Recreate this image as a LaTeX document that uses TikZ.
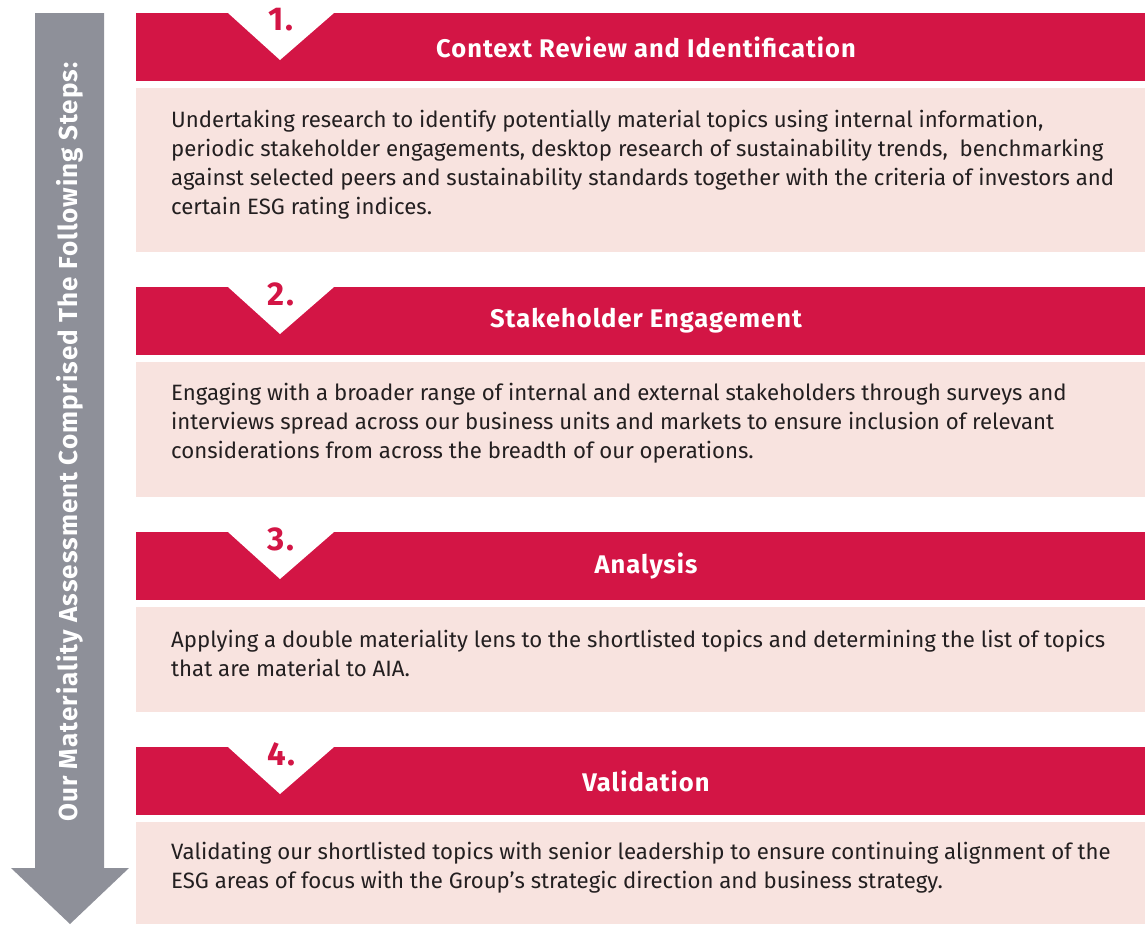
\documentclass[tikz,border=0pt]{standalone}
\usepackage{fontspec}
\setmainfont{Fira Sans}
\newfontfamily\headfont{Fira Sans}[LetterSpace=4]
\definecolor{aiared}{HTML}{D31545}
\definecolor{aiapink}{HTML}{F8E3DF}
\definecolor{aiagray}{HTML}{8E9099}
\definecolor{aiatext}{HTML}{231F20}
\tikzset{
  header/.style={fill=aiared, minimum width=1009pt, minimum height=68pt, anchor=north west, inner sep=0pt},
  bodybox/.style={fill=aiapink, minimum width=1009pt, anchor=north west, inner sep=0pt},
  notch/.style={fill=white},
  title/.style={text=white, font=\headfont\bfseries\fontsize{25.5}{30}\selectfont},
  stepnum/.style={text=aiared, font=\headfont\bfseries\fontsize{33}{36}\selectfont},
  desc/.style={text=aiatext, anchor=west, align=left, inner sep=0pt, font=\fontsize{22.2}{29}\selectfont},
}
\begin{document}
\begin{tikzpicture}[x=1pt,y=-1pt]
    \useasboundingbox (0,0) rectangle (1145,924);
    % arrow on the left
    \fill[aiagray] (35,13) -- (104,13) -- (104,868) -- (129,868) -- (70,924) -- (11,868) -- (35,868) -- cycle;
    \node[rotate=90, text=white, font=\headfont\bfseries\fontsize{26}{28}\selectfont] (steps) at (70,442) {Our Materiality Assessment Comprised The Following Steps:};

    % step 1
    \node[header] (hdr1) at (136,13) {};
    \fill[notch] ([xshift=92pt]hdr1.north west) -- ([xshift=144pt,yshift=-47pt]hdr1.north west) -- ([xshift=198pt]hdr1.north west) -- cycle;
    \node[stepnum] (num1) at (281,20) {1.};
    \node[title] (title1) at (646,47) {Context Review and Identification};
    \node[bodybox, minimum height=164pt] (body1) at (136,88) {};
    \node[desc] (desc1) at (171,165) {Undertaking research to identify potentially material topics using internal information,\\periodic stakeholder engagements, desktop research of sustainability trends,\ \ benchmarking\\against selected peers and sustainability standards together with the criteria of investors and\\certain ESG rating indices.};

    % step 2
    \node[header] (hdr2) at (136,287) {};
    \fill[notch] ([xshift=92pt]hdr2.north west) -- ([xshift=144pt,yshift=-47pt]hdr2.north west) -- ([xshift=198pt]hdr2.north west) -- cycle;
    \node[stepnum] (num2) at (281,294) {2.};
    \node[title] (title2) at (646,321) {Stakeholder Engagement};
    \node[bodybox, minimum height=135pt] (body2) at (136,362) {};
    \node[desc] (desc2) at (171,423) {Engaging with a broader range of internal and external stakeholders through surveys and\\interviews spread across our business units and markets to ensure inclusion of relevant\\considerations from across the breadth of our operations.};

    % step 3
    \node[header] (hdr3) at (136,532) {};
    \fill[notch] ([xshift=92pt]hdr3.north west) -- ([xshift=144pt,yshift=-47pt]hdr3.north west) -- ([xshift=198pt]hdr3.north west) -- cycle;
    \node[stepnum] (num3) at (281,539) {3.};
    \node[title] (title3) at (646,566) {Analysis};
    \node[bodybox, minimum height=105pt] (body3) at (136,607) {};
    \node[desc] (desc3) at (171,653) {Applying a double materiality lens to the shortlisted topics and determining the list of topics\\that are material to AIA.};

    % step 4
    \node[header] (hdr4) at (136,747) {};
    \fill[notch] ([xshift=92pt]hdr4.north west) -- ([xshift=144pt,yshift=-47pt]hdr4.north west) -- ([xshift=198pt]hdr4.north west) -- cycle;
    \node[stepnum] (num4) at (281,754) {4.};
    \node[title] (title4) at (646,781) {Validation};
    \node[bodybox, minimum height=102pt] (body4) at (136,822) {};
    \node[desc] (desc4) at (171,868) {Validating our shortlisted topics with senior leadership to ensure continuing alignment of the\\ESG areas of focus with the Group's strategic direction and business strategy.};
\end{tikzpicture}
\end{document}
